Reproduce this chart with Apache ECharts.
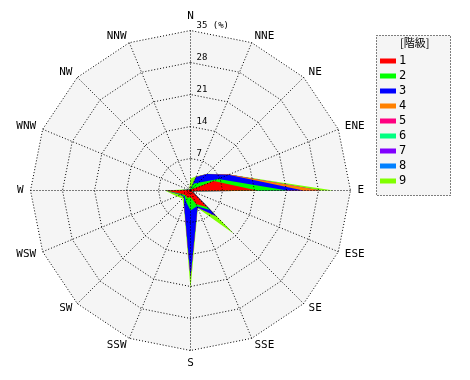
<!DOCTYPE html>
<html><head><meta charset="utf-8">
<script src="https://cdn.jsdelivr.net/npm/echarts@6/dist/echarts.min.js"></script>
<style>html,body{margin:0;padding:0;background:#fff}#c{width:470px;height:380px}</style>
</head><body><div id="c"></div>
<script>
// Directions, clockwise from north
const directions = ['N','NNE','NE','ENE','E','ESE','SE','SSE','S','SSW','SW','WSW','W','WNW','NW','NNW'];
const classNames = ['1','2','3','4','5','6','7','8','9'];
const classColors = ['#ff0000','#00ff00','#0000ff','#ff8000','#ff0080','#00ff80','#8000ff','#0080ff','#80ff00'];
const axisMax = 35;
const axisSplits = 5;
// frequency (%) per class, clockwise from N
const class1 = [0.1, 0.2, 0.4, 5.5, 14.6, 0.3, 5.2, 3.2, 1.4, 1.8, 1.5, 2.0, 5.3, 0.3, 0.2, 0.1];
const class2 = [0.2, 1.4, 2.0, 1.1, 6.6, 0.1, 0.8, 0.5, 3.0, 0.8, 0.3, 0.3, 0.1, 0.1, 0.0, 0.1];
const class3 = [0.1, 1.6, 2.7, 2.4, 3.5, 0.1, 2.0, 0.3, 14.5, 1.0, 0.2, 0.1, 0.0, 0.0, 0.0, 0.0];
const class4 = [0.0, 0.0, 0.0, 0.1, 3.7, 0.0, 0.0, 0.0, 0.0, 0.0, 0.0, 0.0, 0.0, 0.0, 0.0, 0.0];
const class5 = [0.0, 0.0, 0.0, 0.0, 0.0, 0.0, 0.0, 0.0, 0.0, 0.0, 0.0, 0.0, 0.0, 0.0, 0.0, 0.0];
const class6 = [0.0, 0.0, 0.0, 0.0, 0.0, 0.0, 0.0, 0.0, 0.0, 0.0, 0.0, 0.0, 0.0, 0.0, 0.0, 0.0];
const class7 = [0.0, 0.0, 0.0, 0.0, 0.0, 0.0, 0.0, 0.0, 0.0, 0.0, 0.0, 0.0, 0.0, 0.0, 0.0, 0.0];
const class8 = [0.0, 0.0, 0.0, 0.0, 0.0, 0.0, 0.0, 0.0, 0.0, 0.0, 0.0, 0.0, 0.0, 0.0, 0.0, 0.0];
const class9 = [2.2, 0.2, 0.1, 0.1, 2.9, 0.0, 5.4, 0.2, 2.6, 0.2, 0.5, 0.9, 0.2, 0.3, 0.1, 0.4];

const classes = [class1,class2,class3,class4,class5,class6,class7,class8,class9];
// radar goes counter-clockwise: reorder N, NNW, NW, ...
const order = [0]; for (let i = directions.length - 1; i >= 1; i--) order.push(i);
const font = 'DejaVu Sans Mono';
const C = [190.5, 190.5], R = 160;
const dots = [1, 2];

// cumulative (stacked) values
const cum = [];
let run = directions.map(() => 0);
classes.forEach((arr) => { run = run.map((v, i) => v + arr[i]); cum.push(run.slice()); });

const series = [];
for (let k = classes.length - 1; k >= 0; k--) {
  series.push({
    type: 'radar', radarIndex: 0, name: classNames[k], symbol: 'none', silent: true, z: 2,
    itemStyle: { color: classColors[k] },
    lineStyle: { width: 0 },
    areaStyle: { color: classColors[k], opacity: 1 },
    data: [{ value: order.map(i => cum[k][i]), name: classNames[k] }]
  });
}

const mkInd = (withLabel) => order.map((i, j) => {
  const o = { name: withLabel ? directions[i] : '', min: 0, max: axisMax };
  if (withLabel && j === 0) o.axisLabel = { show: true };
  return o;
});

const chart = echarts.init(document.getElementById('c'), null, { renderer: 'canvas' });
chart.setOption({
  animation: false,
  backgroundColor: '#fff',
  radar: [
    { // background fill + data coordinate system
      z: 0, center: C, radius: R, startAngle: 90, splitNumber: axisSplits, shape: 'polygon',
      indicator: mkInd(false),
      axisName: { show: false },
      axisLine: { show: false }, splitLine: { show: false }, axisTick: { show: false }, axisLabel: { show: false },
      splitArea: { areaStyle: { color: ['#f5f5f5'] } }
    },
    { // rings, names, tick labels on top of data
      z: 10, center: C, radius: R, startAngle: 90, splitNumber: axisSplits, shape: 'polygon',
      indicator: mkInd(true),
      nameGap: 7,
      axisName: { color: '#000', fontFamily: font, fontSize: 11 },
      axisLine: { show: false },
      splitLine: { lineStyle: { color: '#000', type: dots, width: 1 } },
      splitArea: { show: false },
      axisTick: { show: false },
      axisLabel: {
        show: false, color: '#000', fontFamily: font, fontSize: 9, margin: -6, align: 'left',
        verticalAlign: 'bottom',
        formatter: (v) => v === 0 ? '' : (v === axisMax ? v + ' (%)' : String(v))
      }
    }
  ],
  polar: { center: C, radius: R },
  angleAxis: {
    type: 'category', data: directions, startAngle: 90, clockwise: true, boundaryGap: false, z: 10,
    axisLine: { show: false }, axisTick: { show: false }, axisLabel: { show: false },
    splitLine: { show: true, lineStyle: { color: '#000', type: dots, width: 1 } }
  },
  radiusAxis: { min: 0, max: axisMax, show: false, axisLine: { show: false }, splitLine: { show: false }, axisLabel: { show: false }, axisTick: { show: false } },
  legend: {
    orient: 'vertical', left: 375, top: 50,
    data: classNames, icon: 'rect', itemWidth: 16, itemHeight: 5, itemGap: 3,
    textStyle: { color: '#000', fontFamily: font, fontSize: 12, lineHeight: 12, padding: [0,0,0,-2] },
    selectedMode: false
  },
  graphic: [
    { type: 'rect', z: 0, shape: { x: 376.5, y: 35.5, width: 74, height: 160 },
      style: { fill: '#f5f5f5', stroke: '#000', lineWidth: 1, lineDash: [1, 2] } },
    { type: 'text', z: 5, left: 400, top: 37,
      style: { text: '[階級]', fill: '#000', font: '11px "Noto Sans CJK JP"' } }
  ],
  series: series
});
</script></body></html>
